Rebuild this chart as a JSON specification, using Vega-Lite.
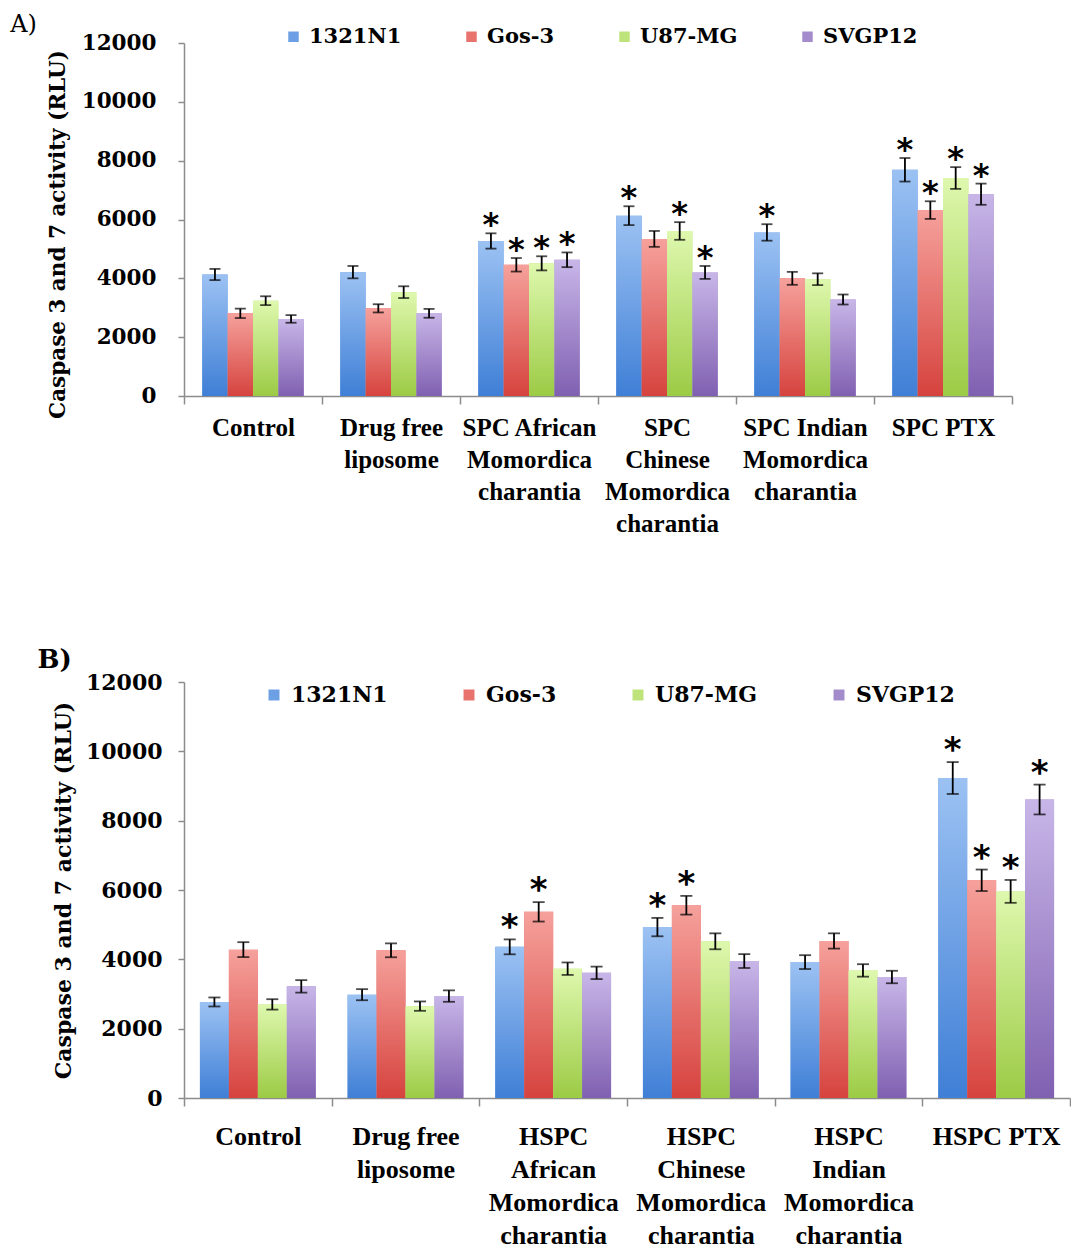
{
  "$schema": "https://vega.github.io/schema/vega-lite/v6.json",
  "background": "white",
  "padding": {"left": 10, "top": 13, "right": 0, "bottom": 0},
  "spacing": 111,
  "resolve": {"scale": {"color": "independent", "xOffset": "independent", "x": "independent", "y": "independent"}, "legend": {"color": "independent"}},
  "config": {
    "view": {"stroke": null},
    "axisY": {
      "domainColor": "#8c8c8c", "domainWidth": 1.5, "tickColor": "#8c8c8c", "tickWidth": 1.5, "tickSize": 6,
      "grid": false, "labelFont": "DejaVu Serif", "labelFontWeight": "bold", "labelColor": "black",
      "labelPadding": 16, "titleFont": "DejaVu Serif", "titleFontWeight": "bold", "titleColor": "black",
      "titlePadding": 10, "format": "d"
    },
    "axisX": {
      "domainColor": "#8c8c8c", "domainWidth": 1.5, "tickColor": "#8c8c8c", "tickWidth": 1.5, "tickSize": 8,
      "tickBand": "extent", "labelAngle": 0, "labelFont": "Liberation Serif", "labelFontWeight": "bold",
      "labelColor": "black", "labelBaseline": "top", "labelPadding": 11, "title": null, "labelLimit": 400
    }
  },
  "datasets": {
    "A": [
      {"cat": "Control", "series": "1321N1", "value": 4130, "lo": 3940, "hi": 4320, "sig": false},
      {"cat": "Control", "series": "Gos-3", "value": 2810, "lo": 2650, "hi": 2970, "sig": false},
      {"cat": "Control", "series": "U87-MG", "value": 3240, "lo": 3090, "hi": 3390, "sig": false},
      {"cat": "Control", "series": "SVGP12", "value": 2620, "lo": 2490, "hi": 2750, "sig": false},
      {"cat": "Drug free liposome", "series": "1321N1", "value": 4210, "lo": 4000, "hi": 4420, "sig": false},
      {"cat": "Drug free liposome", "series": "Gos-3", "value": 2980, "lo": 2840, "hi": 3120, "sig": false},
      {"cat": "Drug free liposome", "series": "U87-MG", "value": 3530, "lo": 3330, "hi": 3730, "sig": false},
      {"cat": "Drug free liposome", "series": "SVGP12", "value": 2810, "lo": 2660, "hi": 2960, "sig": false},
      {"cat": "SPC African Momordica charantia", "series": "1321N1", "value": 5270, "lo": 5010, "hi": 5530, "sig": true},
      {"cat": "SPC African Momordica charantia", "series": "Gos-3", "value": 4460, "lo": 4230, "hi": 4690, "sig": true},
      {"cat": "SPC African Momordica charantia", "series": "U87-MG", "value": 4510, "lo": 4270, "hi": 4750, "sig": true},
      {"cat": "SPC African Momordica charantia", "series": "SVGP12", "value": 4630, "lo": 4380, "hi": 4880, "sig": true},
      {"cat": "SPC Chinese Momordica charantia", "series": "1321N1", "value": 6130, "lo": 5810, "hi": 6450, "sig": true},
      {"cat": "SPC Chinese Momordica charantia", "series": "Gos-3", "value": 5340, "lo": 5070, "hi": 5610, "sig": false},
      {"cat": "SPC Chinese Momordica charantia", "series": "U87-MG", "value": 5610, "lo": 5310, "hi": 5910, "sig": true},
      {"cat": "SPC Chinese Momordica charantia", "series": "SVGP12", "value": 4200, "lo": 3980, "hi": 4420, "sig": true},
      {"cat": "SPC Indian Momordica charantia", "series": "1321N1", "value": 5560, "lo": 5280, "hi": 5840, "sig": true},
      {"cat": "SPC Indian Momordica charantia", "series": "Gos-3", "value": 4000, "lo": 3780, "hi": 4220, "sig": false},
      {"cat": "SPC Indian Momordica charantia", "series": "U87-MG", "value": 3970, "lo": 3770, "hi": 4170, "sig": false},
      {"cat": "SPC Indian Momordica charantia", "series": "SVGP12", "value": 3280, "lo": 3110, "hi": 3450, "sig": false},
      {"cat": "SPC PTX", "series": "1321N1", "value": 7690, "lo": 7290, "hi": 8090, "sig": true},
      {"cat": "SPC PTX", "series": "Gos-3", "value": 6320, "lo": 6020, "hi": 6620, "sig": true},
      {"cat": "SPC PTX", "series": "U87-MG", "value": 7410, "lo": 7040, "hi": 7780, "sig": true},
      {"cat": "SPC PTX", "series": "SVGP12", "value": 6860, "lo": 6500, "hi": 7220, "sig": true}
    ],
    "B": [
      {"cat": "Control", "series": "1321N1", "value": 2770, "lo": 2640, "hi": 2900, "sig": false},
      {"cat": "Control", "series": "Gos-3", "value": 4280, "lo": 4065, "hi": 4495, "sig": false},
      {"cat": "Control", "series": "U87-MG", "value": 2700, "lo": 2550, "hi": 2850, "sig": false},
      {"cat": "Control", "series": "SVGP12", "value": 3220, "lo": 3040, "hi": 3400, "sig": false},
      {"cat": "Drug free liposome", "series": "1321N1", "value": 2980, "lo": 2820, "hi": 3140, "sig": false},
      {"cat": "Drug free liposome", "series": "Gos-3", "value": 4260, "lo": 4060, "hi": 4460, "sig": false},
      {"cat": "Drug free liposome", "series": "U87-MG", "value": 2650, "lo": 2515, "hi": 2785, "sig": false},
      {"cat": "Drug free liposome", "series": "SVGP12", "value": 2940, "lo": 2775, "hi": 3105, "sig": false},
      {"cat": "HSPC African Momordica charantia", "series": "1321N1", "value": 4360, "lo": 4145, "hi": 4575, "sig": true},
      {"cat": "HSPC African Momordica charantia", "series": "Gos-3", "value": 5370, "lo": 5090, "hi": 5650, "sig": true},
      {"cat": "HSPC African Momordica charantia", "series": "U87-MG", "value": 3730, "lo": 3550, "hi": 3910, "sig": false},
      {"cat": "HSPC African Momordica charantia", "series": "SVGP12", "value": 3610, "lo": 3430, "hi": 3790, "sig": false},
      {"cat": "HSPC Chinese Momordica charantia", "series": "1321N1", "value": 4930, "lo": 4665, "hi": 5195, "sig": true},
      {"cat": "HSPC Chinese Momordica charantia", "series": "Gos-3", "value": 5560, "lo": 5290, "hi": 5830, "sig": true},
      {"cat": "HSPC Chinese Momordica charantia", "series": "U87-MG", "value": 4520, "lo": 4290, "hi": 4750, "sig": false},
      {"cat": "HSPC Chinese Momordica charantia", "series": "SVGP12", "value": 3950, "lo": 3750, "hi": 4150, "sig": false},
      {"cat": "HSPC Indian Momordica charantia", "series": "1321N1", "value": 3920, "lo": 3720, "hi": 4120, "sig": false},
      {"cat": "HSPC Indian Momordica charantia", "series": "Gos-3", "value": 4530, "lo": 4310, "hi": 4750, "sig": false},
      {"cat": "HSPC Indian Momordica charantia", "series": "U87-MG", "value": 3680, "lo": 3500, "hi": 3860, "sig": false},
      {"cat": "HSPC Indian Momordica charantia", "series": "SVGP12", "value": 3490, "lo": 3310, "hi": 3670, "sig": false},
      {"cat": "HSPC PTX", "series": "1321N1", "value": 9230, "lo": 8770, "hi": 9690, "sig": true},
      {"cat": "HSPC PTX", "series": "Gos-3", "value": 6280, "lo": 5970, "hi": 6590, "sig": true},
      {"cat": "HSPC PTX", "series": "U87-MG", "value": 5960, "lo": 5630, "hi": 6290, "sig": true},
      {"cat": "HSPC PTX", "series": "SVGP12", "value": 8610, "lo": 8180, "hi": 9040, "sig": true}
    ]
  },
  "vconcat": [
    {
      "title": {"text": "A)", "anchor": "start", "frame": "bounds", "font": "DejaVu Serif", "fontSize": 24, "fontWeight": "normal", "color": "black", "offset": -11, "dx": -37},
      "width": 828,
      "height": 353,
      "data": {"name": "A"},
      "encoding": {
        "x": {
          "field": "cat", "type": "nominal", "sort": null,
          "scale": {"paddingInner": 0, "paddingOuter": 0},
          "axis": {
            "labelFontSize": 25, "labelLineHeight": 32,
            "labelExpr": "datum.value == 'Drug free liposome' ? ['Drug free', 'liposome'] : datum.value == 'SPC African Momordica charantia' ? ['SPC African', 'Momordica', 'charantia'] : datum.value == 'SPC Chinese Momordica charantia' ? ['SPC', 'Chinese', 'Momordica', 'charantia'] : datum.value == 'SPC Indian Momordica charantia' ? ['SPC Indian', 'Momordica', 'charantia'] : datum.label"
          }
        },
        "xOffset": {"field": "series", "type": "nominal", "sort": null, "scale": {"paddingInner": 0, "paddingOuter": 0.72}},
        "y": {"field": "value", "type": "quantitative", "title": "Caspase 3 and 7 activity (RLU)", "scale": {"domain": [0, 12000]}, "axis": {"labelFontSize": 21.5, "labelPadding": 22, "titleFontSize": 21.5, "titlePadding": 12, "titleY": 191, "values": [0, 2000, 4000, 6000, 8000, 10000, 12000]}}
      },
      "layer": [
        {
          "mark": {"type": "bar"},
          "encoding": {
            "color": {
              "field": "series", "type": "nominal",
              "scale": {"domain": ["1321N1", "Gos-3", "U87-MG", "SVGP12"], "range": ["#6c9fe4", "#e8726d", "#bde37a", "#a48ccc"]},
              "legend": {
                "orient": "none", "legendX": 99, "legendY": -17, "direction": "horizontal", "title": null,
                "symbolType": "square", "symbolSize": 110, "symbolStrokeWidth": 0,
                "labelFont": "DejaVu Serif", "labelFontWeight": "bold", "labelFontSize": 21, "labelColor": "black",
                "labelOffset": 5, "columnPadding": 59
              }
            }
          }
        },
        {"transform": [{"filter": "datum.series == '1321N1'"}], "mark": {"type": "bar", "color": {"gradient": "linear", "x1": 0, "y1": 0, "x2": 0, "y2": 1, "stops": [{"offset": 0, "color": "#9cc2f3"}, {"offset": 1, "color": "#3f7fd6"}]}}},
        {"transform": [{"filter": "datum.series == 'Gos-3'"}], "mark": {"type": "bar", "color": {"gradient": "linear", "x1": 0, "y1": 0, "x2": 0, "y2": 1, "stops": [{"offset": 0, "color": "#f6a19c"}, {"offset": 1, "color": "#d6433e"}]}}},
        {"transform": [{"filter": "datum.series == 'U87-MG'"}], "mark": {"type": "bar", "color": {"gradient": "linear", "x1": 0, "y1": 0, "x2": 0, "y2": 1, "stops": [{"offset": 0, "color": "#def8ae"}, {"offset": 1, "color": "#9ccb45"}]}}},
        {"transform": [{"filter": "datum.series == 'SVGP12'"}], "mark": {"type": "bar", "color": {"gradient": "linear", "x1": 0, "y1": 0, "x2": 0, "y2": 1, "stops": [{"offset": 0, "color": "#c8b6e8"}, {"offset": 1, "color": "#8060b1"}]}}},
        {
          "mark": {"type": "rule", "color": "black", "strokeWidth": 1.8},
          "encoding": {"y": {"field": "lo", "type": "quantitative"}, "y2": {"field": "hi"}}
        },
        {
          "mark": {"type": "tick", "color": "black", "size": 11, "thickness": 1.8, "orient": "horizontal"},
          "encoding": {"y": {"field": "lo", "type": "quantitative"}}
        },
        {
          "mark": {"type": "tick", "color": "black", "size": 11, "thickness": 1.8, "orient": "horizontal"},
          "encoding": {"y": {"field": "hi", "type": "quantitative"}}
        },
        {
          "transform": [{"filter": "datum.sig"}],
          "mark": {"type": "text", "text": "*", "font": "DejaVu Sans", "fontWeight": "bold", "fontSize": 32, "color": "black", "baseline": "alphabetic", "dy": 2},
          "encoding": {"y": {"field": "hi", "type": "quantitative"}}
        }
      ]
    },
    {
      "title": {"text": "B)", "anchor": "start", "frame": "bounds", "font": "DejaVu Serif", "fontSize": 26, "fontWeight": "bold", "color": "black", "offset": -2, "dx": -15},
      "width": 886,
      "height": 416,
      "data": {"name": "B"},
      "encoding": {
        "x": {
          "field": "cat", "type": "nominal", "sort": null,
          "scale": {"paddingInner": 0, "paddingOuter": 0},
          "axis": {
            "labelFontSize": 26, "labelLineHeight": 33, "labelPadding": 17,
            "labelExpr": "datum.value == 'Drug free liposome' ? ['Drug free', 'liposome'] : datum.value == 'HSPC African Momordica charantia' ? ['HSPC', 'African', 'Momordica', 'charantia'] : datum.value == 'HSPC Chinese Momordica charantia' ? ['HSPC', 'Chinese', 'Momordica', 'charantia'] : datum.value == 'HSPC Indian Momordica charantia' ? ['HSPC', 'Indian', 'Momordica', 'charantia'] : datum.label"
          }
        },
        "xOffset": {"field": "series", "type": "nominal", "sort": null, "scale": {"paddingInner": 0, "paddingOuter": 0.55}},
        "y": {"field": "value", "type": "quantitative", "title": "Caspase 3 and 7 activity (RLU)", "scale": {"domain": [0, 12000]}, "axis": {"labelFontSize": 22, "titleFontSize": 22, "values": [0, 2000, 4000, 6000, 8000, 10000, 12000]}}
      },
      "layer": [
        {
          "mark": {"type": "bar"},
          "encoding": {
            "color": {
              "field": "series", "type": "nominal",
              "scale": {"domain": ["1321N1", "Gos-3", "U87-MG", "SVGP12"], "range": ["#6c9fe4", "#e8726d", "#bde37a", "#a48ccc"]},
              "legend": {
                "orient": "none", "legendX": 79, "legendY": 2, "direction": "horizontal", "title": null,
                "symbolType": "square", "symbolSize": 120, "symbolStrokeWidth": 0,
                "labelFont": "DejaVu Serif", "labelFontWeight": "bold", "labelFontSize": 22, "labelColor": "black",
                "labelOffset": 6, "columnPadding": 70
              }
            }
          }
        },
        {"transform": [{"filter": "datum.series == '1321N1'"}], "mark": {"type": "bar", "color": {"gradient": "linear", "x1": 0, "y1": 0, "x2": 0, "y2": 1, "stops": [{"offset": 0, "color": "#9cc2f3"}, {"offset": 1, "color": "#3f7fd6"}]}}},
        {"transform": [{"filter": "datum.series == 'Gos-3'"}], "mark": {"type": "bar", "color": {"gradient": "linear", "x1": 0, "y1": 0, "x2": 0, "y2": 1, "stops": [{"offset": 0, "color": "#f6a19c"}, {"offset": 1, "color": "#d6433e"}]}}},
        {"transform": [{"filter": "datum.series == 'U87-MG'"}], "mark": {"type": "bar", "color": {"gradient": "linear", "x1": 0, "y1": 0, "x2": 0, "y2": 1, "stops": [{"offset": 0, "color": "#def8ae"}, {"offset": 1, "color": "#9ccb45"}]}}},
        {"transform": [{"filter": "datum.series == 'SVGP12'"}], "mark": {"type": "bar", "color": {"gradient": "linear", "x1": 0, "y1": 0, "x2": 0, "y2": 1, "stops": [{"offset": 0, "color": "#c8b6e8"}, {"offset": 1, "color": "#8060b1"}]}}},
        {
          "mark": {"type": "rule", "color": "black", "strokeWidth": 1.8},
          "encoding": {"y": {"field": "lo", "type": "quantitative"}, "y2": {"field": "hi"}}
        },
        {
          "mark": {"type": "tick", "color": "black", "size": 12, "thickness": 1.8, "orient": "horizontal"},
          "encoding": {"y": {"field": "lo", "type": "quantitative"}}
        },
        {
          "mark": {"type": "tick", "color": "black", "size": 12, "thickness": 1.8, "orient": "horizontal"},
          "encoding": {"y": {"field": "hi", "type": "quantitative"}}
        },
        {
          "transform": [{"filter": "datum.sig"}],
          "mark": {"type": "text", "text": "*", "font": "DejaVu Sans", "fontWeight": "bold", "fontSize": 34, "color": "black", "baseline": "alphabetic", "dy": -1},
          "encoding": {"y": {"field": "hi", "type": "quantitative"}}
        }
      ]
    }
  ]
}
